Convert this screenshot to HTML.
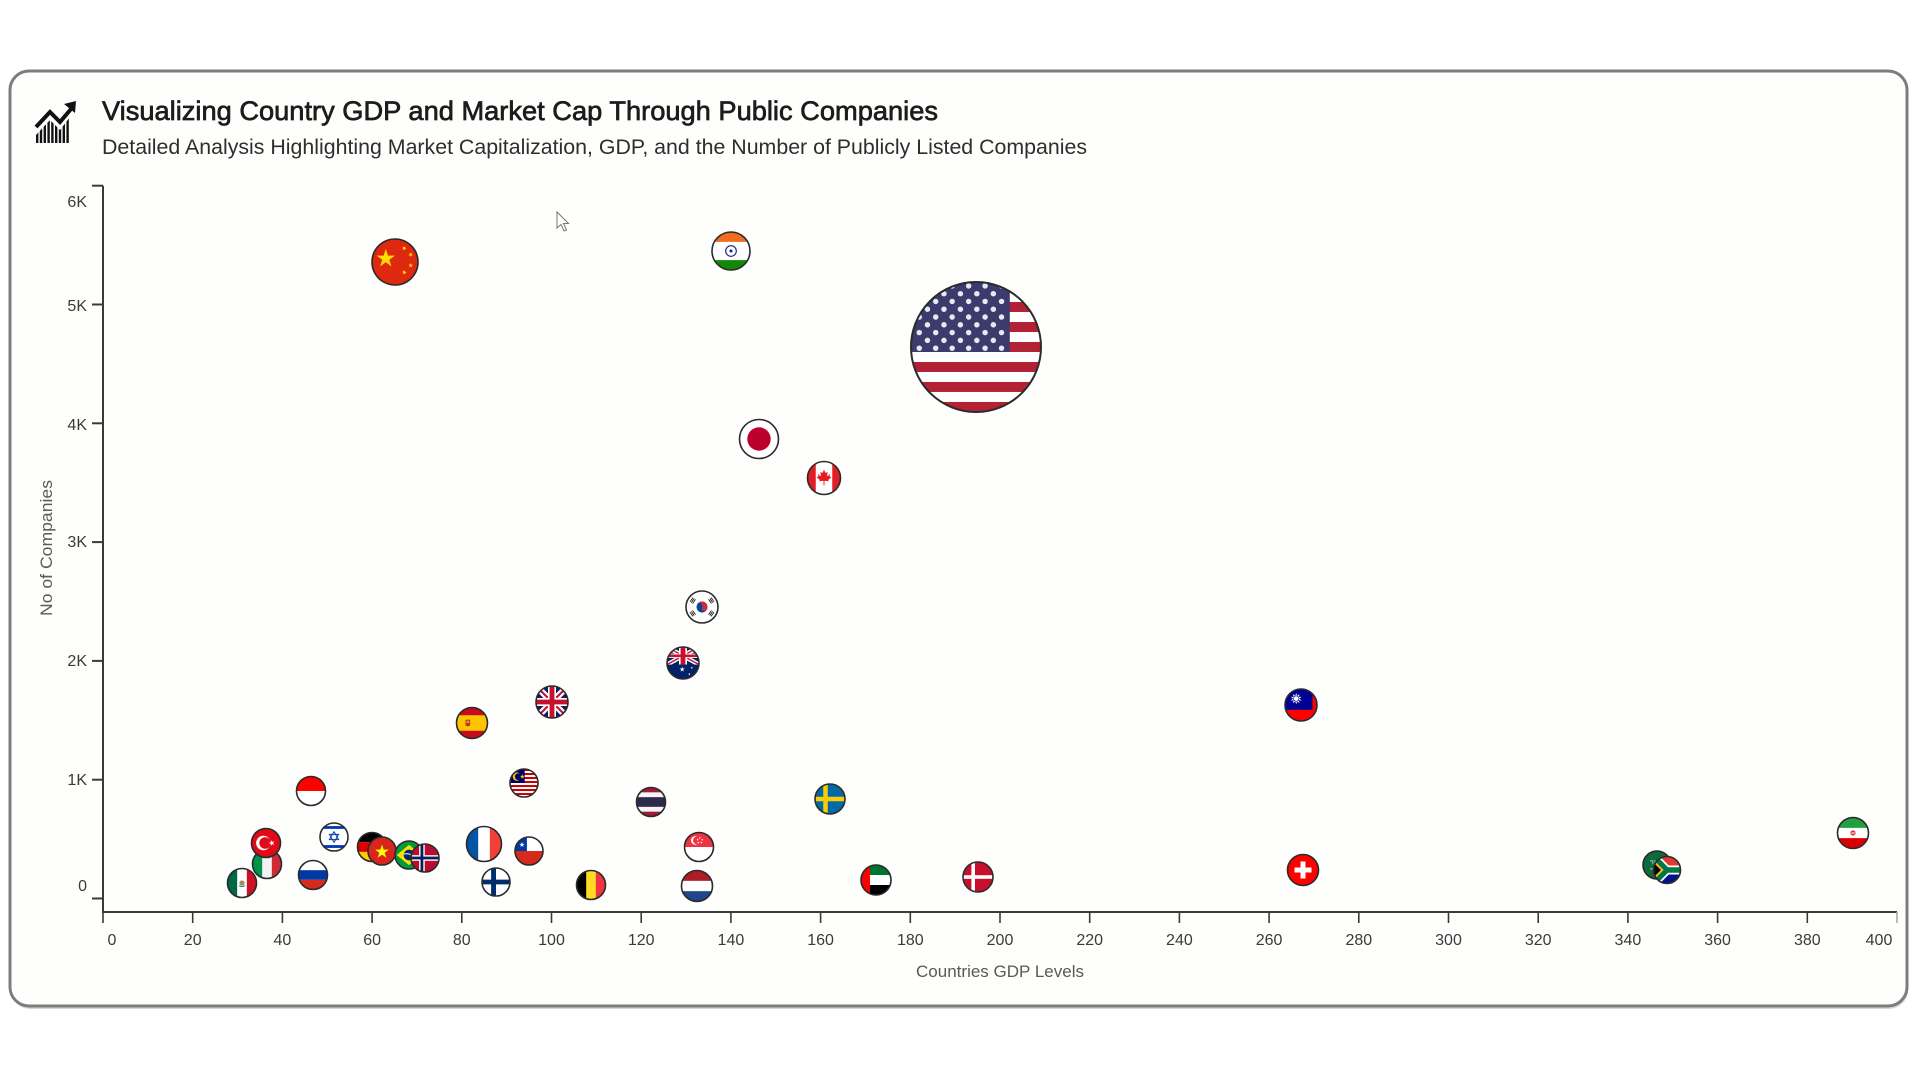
<!DOCTYPE html>
<html>
<head>
<meta charset="utf-8">
<style>
html,body{margin:0;padding:0;background:#ffffff;}
svg{display:block;}
text{font-family:"Liberation Sans",Arial,sans-serif;}
.o{fill:none;stroke:#2b2b2b;stroke-width:1.6;vector-effect:non-scaling-stroke;}
</style>
</head>
<body>
<svg width="1920" height="1080" viewBox="0 0 1920 1080" xmlns="http://www.w3.org/2000/svg">
<defs>
  <clipPath id="cc" clipPathUnits="userSpaceOnUse"><circle cx="0" cy="0" r="1"/></clipPath>
  <clipPath id="sq" clipPathUnits="userSpaceOnUse"><rect x="-1" y="-1" width="2" height="2"/></clipPath>
  <clipPath id="iconclip"><polygon points="36,135 50,120 60,130 70,117 70,143 36,143"/></clipPath>
  <polygon id="star" points="0,-1 0.2245,-0.309 0.951,-0.309 0.363,0.118 0.588,0.809 0,0.382 -0.588,0.809 -0.363,0.118 -0.951,-0.309 -0.2245,-0.309"/>

  <g id="uj"><g clip-path="url(#sq)">
    <rect x="-1" y="-1" width="2" height="2" fill="#012169"/>
    <path d="M-1,-1L1,1M1,-1L-1,1" stroke="#fff" stroke-width="0.4"/>
    <path d="M-1,-1L1,1M1,-1L-1,1" stroke="#c8102e" stroke-width="0.13"/>
    <path d="M0,-1V1M-1,0H1" stroke="#fff" stroke-width="0.5"/>
    <path d="M0,-1V1M-1,0H1" stroke="#c8102e" stroke-width="0.3"/>
  </g></g>

  <g id="f-cn">
    <rect x="-1" y="-1" width="2" height="2" fill="#de2910"/>
    <use href="#star" fill="#ffde00" transform="translate(-0.4,-0.15) scale(0.42)"/>
    <use href="#star" fill="#ffde00" transform="translate(0.4,-0.6) scale(0.11) rotate(20)"/>
    <use href="#star" fill="#ffde00" transform="translate(0.68,-0.32) scale(0.11) rotate(40)"/>
    <use href="#star" fill="#ffde00" transform="translate(0.68,0.15) scale(0.11)"/>
    <use href="#star" fill="#ffde00" transform="translate(0.4,0.45) scale(0.11) rotate(20)"/>
  </g>
  <g id="f-in">
    <rect x="-1" y="-1" width="2" height="2" fill="#fff"/>
    <rect x="-1" y="-1" width="2" height="0.52" fill="#f26b21"/>
    <rect x="-1" y="0.48" width="2" height="0.52" fill="#138808"/>
    <circle r="0.28" fill="none" stroke="#1a237e" stroke-width="0.06"/>
    <circle r="0.08" fill="#1a237e"/>
  </g>
  <g id="f-us">
    <rect x="-1" y="-1" width="2" height="2" fill="#fff"/>
    <g fill="#b22234">
      <rect x="-1" y="-1" width="2" height="0.1538"/>
      <rect x="-1" y="-0.6924" width="2" height="0.1538"/>
      <rect x="-1" y="-0.3848" width="2" height="0.1538"/>
      <rect x="-1" y="-0.0772" width="2" height="0.1538"/>
      <rect x="-1" y="0.2304" width="2" height="0.1538"/>
      <rect x="-1" y="0.538" width="2" height="0.1538"/>
      <rect x="-1" y="0.8456" width="2" height="0.1544"/>
    </g>
    <rect x="-1" y="-1" width="1.52" height="1.077" fill="#3c3b6e"/>
    <g fill="#e8e8f0">
      <circle cx="-0.873" cy="-0.94" r="0.042"/><circle cx="-0.62" cy="-0.94" r="0.042"/><circle cx="-0.367" cy="-0.94" r="0.042"/><circle cx="-0.113" cy="-0.94" r="0.042"/><circle cx="0.14" cy="-0.94" r="0.042"/><circle cx="0.393" cy="-0.94" r="0.042"/>
      <circle cx="-0.747" cy="-0.82" r="0.042"/><circle cx="-0.493" cy="-0.82" r="0.042"/><circle cx="-0.24" cy="-0.82" r="0.042"/><circle cx="0.013" cy="-0.82" r="0.042"/><circle cx="0.267" cy="-0.82" r="0.042"/>
      <circle cx="-0.873" cy="-0.701" r="0.042"/><circle cx="-0.62" cy="-0.701" r="0.042"/><circle cx="-0.367" cy="-0.701" r="0.042"/><circle cx="-0.113" cy="-0.701" r="0.042"/><circle cx="0.14" cy="-0.701" r="0.042"/><circle cx="0.393" cy="-0.701" r="0.042"/>
      <circle cx="-0.747" cy="-0.581" r="0.042"/><circle cx="-0.493" cy="-0.581" r="0.042"/><circle cx="-0.24" cy="-0.581" r="0.042"/><circle cx="0.013" cy="-0.581" r="0.042"/><circle cx="0.267" cy="-0.581" r="0.042"/>
      <circle cx="-0.873" cy="-0.461" r="0.042"/><circle cx="-0.62" cy="-0.461" r="0.042"/><circle cx="-0.367" cy="-0.461" r="0.042"/><circle cx="-0.113" cy="-0.461" r="0.042"/><circle cx="0.14" cy="-0.461" r="0.042"/><circle cx="0.393" cy="-0.461" r="0.042"/>
      <circle cx="-0.747" cy="-0.342" r="0.042"/><circle cx="-0.493" cy="-0.342" r="0.042"/><circle cx="-0.24" cy="-0.342" r="0.042"/><circle cx="0.013" cy="-0.342" r="0.042"/><circle cx="0.267" cy="-0.342" r="0.042"/>
      <circle cx="-0.873" cy="-0.222" r="0.042"/><circle cx="-0.62" cy="-0.222" r="0.042"/><circle cx="-0.367" cy="-0.222" r="0.042"/><circle cx="-0.113" cy="-0.222" r="0.042"/><circle cx="0.14" cy="-0.222" r="0.042"/><circle cx="0.393" cy="-0.222" r="0.042"/>
      <circle cx="-0.747" cy="-0.102" r="0.042"/><circle cx="-0.493" cy="-0.102" r="0.042"/><circle cx="-0.24" cy="-0.102" r="0.042"/><circle cx="0.013" cy="-0.102" r="0.042"/><circle cx="0.267" cy="-0.102" r="0.042"/>
      <circle cx="-0.873" cy="0.018" r="0.042"/><circle cx="-0.62" cy="0.018" r="0.042"/><circle cx="-0.367" cy="0.018" r="0.042"/><circle cx="-0.113" cy="0.018" r="0.042"/><circle cx="0.14" cy="0.018" r="0.042"/><circle cx="0.393" cy="0.018" r="0.042"/>
    </g>
  </g>
  <g id="f-jp">
    <rect x="-1" y="-1" width="2" height="2" fill="#fff"/>
    <circle r="0.6" fill="#bc002d"/>
  </g>
  <g id="f-ca">
    <rect x="-1" y="-1" width="2" height="2" fill="#fff"/>
    <rect x="-1" y="-1" width="0.5" height="2" fill="#e41c23"/>
    <rect x="0.5" y="-1" width="0.5" height="2" fill="#e41c23"/>
    <polygon fill="#e41c23" points="0,-0.5 0.1,-0.3 0.22,-0.36 0.18,-0.1 0.38,-0.25 0.33,-0.1 0.45,-0.05 0.25,0.12 0.3,0.2 0.03,0.17 0.03,0.45 -0.03,0.45 -0.03,0.17 -0.3,0.2 -0.25,0.12 -0.45,-0.05 -0.33,-0.1 -0.38,-0.25 -0.18,-0.1 -0.22,-0.36 -0.1,-0.3"/>
  </g>
  <g id="f-kr">
    <rect x="-1" y="-1" width="2" height="2" fill="#fff"/>
    <circle r="0.34" fill="#0047a0"/>
    <path d="M-0.34,0A0.34,0.34 0 0 1 0.34,0A0.17,0.17 0 0 1 0,0A0.17,0.17 0 0 0 -0.34,0Z" fill="#cd2e3a" transform="rotate(30)"/>
    <g fill="#000">
      <g transform="translate(-0.58,-0.4) rotate(-55)"><rect x="-0.16" y="-0.12" width="0.32" height="0.05"/><rect x="-0.16" y="-0.025" width="0.32" height="0.05"/><rect x="-0.16" y="0.07" width="0.32" height="0.05"/></g>
      <g transform="translate(0.58,-0.4) rotate(55)"><rect x="-0.16" y="-0.12" width="0.32" height="0.05"/><rect x="-0.16" y="-0.025" width="0.32" height="0.05"/><rect x="-0.16" y="0.07" width="0.32" height="0.05"/></g>
      <g transform="translate(-0.58,0.4) rotate(55)"><rect x="-0.16" y="-0.12" width="0.32" height="0.05"/><rect x="-0.16" y="-0.025" width="0.32" height="0.05"/><rect x="-0.16" y="0.07" width="0.32" height="0.05"/></g>
      <g transform="translate(0.58,0.4) rotate(-55)"><rect x="-0.16" y="-0.12" width="0.32" height="0.05"/><rect x="-0.16" y="-0.025" width="0.32" height="0.05"/><rect x="-0.16" y="0.07" width="0.32" height="0.05"/></g>
    </g>
  </g>
  <g id="f-au">
    <rect x="-1" y="-1" width="2" height="2" fill="#012169"/>
    <use href="#uj" transform="translate(0,-0.45) scale(1,0.55)"/>
    <use href="#star" fill="#fff" transform="translate(-0.05,0.4) scale(0.17)"/>
    <use href="#star" fill="#fff" transform="translate(0.55,0.3) scale(0.08)"/>
    <use href="#star" fill="#fff" transform="translate(0.4,0.7) scale(0.08)"/>
  </g>
  <g id="f-gb"><use href="#uj"/></g>
  <g id="f-es">
    <rect x="-1" y="-1" width="2" height="2" fill="#ffc400"/>
    <rect x="-1" y="-1" width="2" height="0.5" fill="#c60b1e"/>
    <rect x="-1" y="0.5" width="2" height="0.5" fill="#c60b1e"/>
    <rect x="-0.42" y="-0.22" width="0.3" height="0.42" rx="0.08" fill="#ad1519" opacity="0.8"/>
    <rect x="-0.36" y="-0.15" width="0.18" height="0.15" fill="#c8a14a"/>
  </g>
  <g id="f-tw">
    <rect x="-1" y="-1" width="2" height="2" fill="#fe0000"/>
    <rect x="-1" y="-1" width="1.72" height="1.3" fill="#000095"/>
    <use href="#star" fill="#fff" transform="translate(-0.3,-0.4) scale(0.36)"/>
    <use href="#star" fill="#fff" transform="translate(-0.3,-0.4) scale(0.36) rotate(36)"/>
    <circle cx="-0.3" cy="-0.4" r="0.19" fill="#000095"/>
    <circle cx="-0.3" cy="-0.4" r="0.15" fill="#fff"/>
  </g>
  <g id="f-id">
    <rect x="-1" y="-1" width="2" height="2" fill="#fff"/>
    <rect x="-1" y="-1" width="2" height="1" fill="#ff0000"/>
  </g>
  <g id="f-my">
    <rect x="-1" y="-1" width="2" height="2" fill="#fff"/>
    <g fill="#cc0001">
      <rect x="-1" y="-1" width="2" height="0.143"/><rect x="-1" y="-0.714" width="2" height="0.143"/><rect x="-1" y="-0.428" width="2" height="0.143"/><rect x="-1" y="-0.142" width="2" height="0.143"/><rect x="-1" y="0.144" width="2" height="0.143"/><rect x="-1" y="0.43" width="2" height="0.143"/><rect x="-1" y="0.716" width="2" height="0.143"/>
    </g>
    <rect x="-1" y="-1" width="1.05" height="1.0" fill="#010066"/>
    <circle cx="-0.5" cy="-0.45" r="0.3" fill="#ffcc00"/>
    <circle cx="-0.4" cy="-0.45" r="0.25" fill="#010066"/>
    <use href="#star" fill="#ffcc00" transform="translate(-0.12,-0.45) scale(0.18)"/>
  </g>
  <g id="f-th">
    <rect x="-1" y="-1" width="2" height="2" fill="#f4f5f8"/>
    <rect x="-1" y="-1" width="2" height="0.333" fill="#a51931"/>
    <rect x="-1" y="0.667" width="2" height="0.333" fill="#a51931"/>
    <rect x="-1" y="-0.333" width="2" height="0.666" fill="#2d2a4a"/>
  </g>
  <g id="f-se">
    <rect x="-1" y="-1" width="2" height="2" fill="#006aa7"/>
    <rect x="-0.45" y="-1" width="0.3" height="2" fill="#fecc02"/>
    <rect x="-1" y="-0.15" width="2" height="0.3" fill="#fecc02"/>
  </g>
  <g id="f-ir">
    <rect x="-1" y="-1" width="2" height="2" fill="#fff"/>
    <rect x="-1" y="-1" width="2" height="0.67" fill="#239f40"/>
    <rect x="-1" y="0.33" width="2" height="0.67" fill="#da0000"/>
    <circle r="0.13" fill="none" stroke="#da0000" stroke-width="0.06"/>
    <rect x="-0.025" y="-0.16" width="0.05" height="0.32" fill="#da0000"/>
  </g>
  <g id="f-tr">
    <rect x="-1" y="-1" width="2" height="2" fill="#e30a17"/>
    <circle cx="-0.18" cy="0" r="0.5" fill="#fff"/>
    <circle cx="-0.06" cy="0" r="0.4" fill="#e30a17"/>
    <use href="#star" fill="#fff" transform="translate(0.4,0) scale(0.22) rotate(-90)"/>
  </g>
  <g id="f-il">
    <rect x="-1" y="-1" width="2" height="2" fill="#fff"/>
    <rect x="-1" y="-0.78" width="2" height="0.2" fill="#0038b8"/>
    <rect x="-1" y="0.58" width="2" height="0.2" fill="#0038b8"/>
    <polygon points="0,-0.38 0.33,0.19 -0.33,0.19" fill="none" stroke="#0038b8" stroke-width="0.07"/>
    <polygon points="0,0.38 0.33,-0.19 -0.33,-0.19" fill="none" stroke="#0038b8" stroke-width="0.07"/>
  </g>
  <g id="f-de">
    <rect x="-1" y="-1" width="2" height="2" fill="#ffce00"/>
    <rect x="-1" y="-1" width="2" height="0.667" fill="#000"/>
    <rect x="-1" y="-0.333" width="2" height="0.666" fill="#dd0000"/>
  </g>
  <g id="f-vn">
    <rect x="-1" y="-1" width="2" height="2" fill="#da251d"/>
    <use href="#star" fill="#ffff00" transform="translate(0,0.06) scale(0.52)"/>
  </g>
  <g id="f-br">
    <rect x="-1" y="-1" width="2" height="2" fill="#009c3b"/>
    <polygon points="0,-0.72 0.88,0 0,0.72 -0.88,0" fill="#ffdf00"/>
    <circle r="0.38" fill="#002776"/>
    <path d="M-0.37,-0.07Q0,-0.15 0.37,0.08" stroke="#fff" stroke-width="0.07" fill="none"/>
  </g>
  <g id="f-no">
    <rect x="-1" y="-1" width="2" height="2" fill="#ba0c2f"/>
    <rect x="-0.42" y="-1" width="0.4" height="2" fill="#fff"/>
    <rect x="-1" y="-0.2" width="2" height="0.4" fill="#fff"/>
    <rect x="-0.32" y="-1" width="0.2" height="2" fill="#00205b"/>
    <rect x="-1" y="-0.1" width="2" height="0.2" fill="#00205b"/>
  </g>
  <g id="f-fr">
    <rect x="-1" y="-1" width="2" height="2" fill="#fff"/>
    <rect x="-1" y="-1" width="0.667" height="2" fill="#0055a4"/>
    <rect x="0.333" y="-1" width="0.667" height="2" fill="#ef4135"/>
  </g>
  <g id="f-cl">
    <rect x="-1" y="-1" width="2" height="2" fill="#fff"/>
    <rect x="-1" y="0" width="2" height="1" fill="#d52b1e"/>
    <rect x="-1" y="-1" width="0.85" height="1" fill="#0039a6"/>
    <use href="#star" fill="#fff" transform="translate(-0.5,-0.45) scale(0.2)"/>
  </g>
  <g id="f-sg">
    <rect x="-1" y="-1" width="2" height="2" fill="#fff"/>
    <rect x="-1" y="-1" width="2" height="1" fill="#ef3340"/>
    <circle cx="-0.25" cy="-0.45" r="0.3" fill="#fff"/>
    <circle cx="-0.14" cy="-0.45" r="0.27" fill="#ef3340"/>
    <circle cx="0.05" cy="-0.62" r="0.05" fill="#fff"/>
    <circle cx="0.22" cy="-0.5" r="0.05" fill="#fff"/>
    <circle cx="0.16" cy="-0.3" r="0.05" fill="#fff"/>
    <circle cx="-0.05" cy="-0.3" r="0.05" fill="#fff"/>
    <circle cx="-0.1" cy="-0.5" r="0.05" fill="#fff"/>
  </g>
  <g id="f-it">
    <rect x="-1" y="-1" width="2" height="2" fill="#f1f2f1"/>
    <rect x="-1" y="-1" width="0.667" height="2" fill="#009246"/>
    <rect x="0.333" y="-1" width="0.667" height="2" fill="#ce2b37"/>
  </g>
  <g id="f-ru">
    <rect x="-1" y="-1" width="2" height="2" fill="#fff"/>
    <rect x="-1" y="-0.333" width="2" height="0.666" fill="#0039a6"/>
    <rect x="-1" y="0.333" width="2" height="0.667" fill="#d52b1e"/>
  </g>
  <g id="f-mx">
    <rect x="-1" y="-1" width="2" height="2" fill="#fff"/>
    <rect x="-1" y="-1" width="0.667" height="2" fill="#006847"/>
    <rect x="0.333" y="-1" width="0.667" height="2" fill="#ce1126"/>
    <circle r="0.18" fill="#8c6d3f" opacity="0.8"/>
    <path d="M-0.2,0.18Q0,0.3 0.2,0.18" stroke="#006847" stroke-width="0.06" fill="none"/>
  </g>
  <g id="f-fi">
    <rect x="-1" y="-1" width="2" height="2" fill="#fff"/>
    <rect x="-0.35" y="-1" width="0.35" height="2" fill="#002f6c"/>
    <rect x="-1" y="-0.17" width="2" height="0.34" fill="#002f6c"/>
  </g>
  <g id="f-be">
    <rect x="-1" y="-1" width="2" height="2" fill="#fdda24"/>
    <rect x="-1" y="-1" width="0.667" height="2" fill="#000"/>
    <rect x="0.333" y="-1" width="0.667" height="2" fill="#ef3340"/>
  </g>
  <g id="f-nl">
    <rect x="-1" y="-1" width="2" height="2" fill="#fff"/>
    <rect x="-1" y="-1" width="2" height="0.667" fill="#ae1c28"/>
    <rect x="-1" y="0.333" width="2" height="0.667" fill="#21468b"/>
  </g>
  <g id="f-ae">
    <rect x="-1" y="-1" width="2" height="2" fill="#fff"/>
    <rect x="-1" y="-1" width="2" height="0.667" fill="#00732f"/>
    <rect x="-1" y="0.333" width="2" height="0.667" fill="#000"/>
    <rect x="-1" y="-1" width="0.6" height="2" fill="#ff0000"/>
  </g>
  <g id="f-dk">
    <rect x="-1" y="-1" width="2" height="2" fill="#c8102e"/>
    <rect x="-0.44" y="-1" width="0.24" height="2" fill="#fff"/>
    <rect x="-1" y="-0.12" width="2" height="0.24" fill="#fff"/>
  </g>
  <g id="f-ch">
    <rect x="-1" y="-1" width="2" height="2" fill="#ff0000"/>
    <rect x="-0.16" y="-0.55" width="0.32" height="1.1" fill="#fff"/>
    <rect x="-0.55" y="-0.16" width="1.1" height="0.32" fill="#fff"/>
  </g>
  <g id="f-sa">
    <rect x="-1" y="-1" width="2" height="2" fill="#0b6b3a"/>
    <rect x="-0.5" y="0.25" width="1" height="0.06" fill="#fff" opacity="0.8"/>
    <path d="M-0.5,-0.3h0.2v0.25M-0.15,-0.35v0.3h0.2M0.2,-0.3v0.25h0.25" stroke="#fff" stroke-width="0.06" fill="none" opacity="0.7"/>
  </g>
  <g id="f-za">
    <rect x="-1" y="-1" width="2" height="1" fill="#e03c31"/>
    <rect x="-1" y="0" width="2" height="1" fill="#001489"/>
    <path d="M-1,-1L0,0L1,0M-1,1L0,0" stroke="#fff" stroke-width="0.66" fill="none"/>
    <path d="M-1,-1L0,0L1,0M-1,1L0,0" stroke="#007749" stroke-width="0.4" fill="none"/>
    <polygon points="-1,-0.75 -0.25,0 -1,0.75" fill="#ffb81c"/>
    <polygon points="-1,-0.55 -0.45,0 -1,0.55" fill="#000"/>
  </g>
</defs>

<!-- Card -->
<rect x="11" y="73" width="1897" height="936" rx="19" fill="#d6d6d6"/>
<rect x="10" y="71" width="1897" height="935" rx="19" fill="#fefefc" stroke="#7d7d7d" stroke-width="3"/>

<!-- Icon -->
<g clip-path="url(#iconclip)" fill="#111">
  <rect x="36" y="110" width="2.4" height="34"/><rect x="39.8" y="110" width="2.4" height="34"/><rect x="43.6" y="110" width="2.4" height="34"/><rect x="47.4" y="110" width="2.4" height="34"/><rect x="51.2" y="110" width="2.4" height="34"/><rect x="55" y="110" width="2.4" height="34"/><rect x="58.8" y="110" width="2.4" height="34"/><rect x="62.6" y="110" width="2.4" height="34"/><rect x="66.4" y="110" width="2.4" height="34"/>
</g>
<polyline points="36,127 50,112 60,122 71,109" fill="none" stroke="#111" stroke-width="4" stroke-linejoin="miter"/>
<polygon points="76,101 75,113 64,104" fill="#111"/>

<!-- Titles -->
<text x="102" y="120" font-size="27" fill="#1c1c1c" stroke="#1c1c1c" stroke-width="0.7" textLength="836" lengthAdjust="spacingAndGlyphs">Visualizing Country GDP and Market Cap Through Public Companies</text>
<text x="102" y="154" font-size="21" fill="#2e2e2e" textLength="985" lengthAdjust="spacingAndGlyphs">Detailed Analysis Highlighting Market Capitalization, GDP, and the Number of Publicly Listed Companies</text>

<!-- Axes -->
<g stroke="#3a3a3a" stroke-width="2" fill="none">
  <line x1="103" y1="185.7" x2="103" y2="912"/>
  <line x1="102" y1="912" x2="1897" y2="912"/>
  <line x1="92" y1="185.7" x2="103" y2="185.7"/>
  <line x1="92" y1="304.5" x2="103" y2="304.5"/>
  <line x1="92" y1="423.3" x2="103" y2="423.3"/>
  <line x1="92" y1="542.1" x2="103" y2="542.1"/>
  <line x1="92" y1="660.9" x2="103" y2="660.9"/>
  <line x1="92" y1="779.7" x2="103" y2="779.7"/>
  <line x1="92" y1="898.5" x2="103" y2="898.5"/>
</g>
<g stroke="#3a3a3a" stroke-width="1.6">
  <line x1="103" y1="912" x2="103" y2="923"/>
  <line x1="192.7" y1="912" x2="192.7" y2="923"/>
  <line x1="282.4" y1="912" x2="282.4" y2="923"/>
  <line x1="372.1" y1="912" x2="372.1" y2="923"/>
  <line x1="461.8" y1="912" x2="461.8" y2="923"/>
  <line x1="551.5" y1="912" x2="551.5" y2="923"/>
  <line x1="641.2" y1="912" x2="641.2" y2="923"/>
  <line x1="730.9" y1="912" x2="730.9" y2="923"/>
  <line x1="820.6" y1="912" x2="820.6" y2="923"/>
  <line x1="910.3" y1="912" x2="910.3" y2="923"/>
  <line x1="1000" y1="912" x2="1000" y2="923"/>
  <line x1="1089.7" y1="912" x2="1089.7" y2="923"/>
  <line x1="1179.4" y1="912" x2="1179.4" y2="923"/>
  <line x1="1269.1" y1="912" x2="1269.1" y2="923"/>
  <line x1="1358.8" y1="912" x2="1358.8" y2="923"/>
  <line x1="1448.5" y1="912" x2="1448.5" y2="923"/>
  <line x1="1538.2" y1="912" x2="1538.2" y2="923"/>
  <line x1="1627.9" y1="912" x2="1627.9" y2="923"/>
  <line x1="1717.6" y1="912" x2="1717.6" y2="923"/>
  <line x1="1807.3" y1="912" x2="1807.3" y2="923"/>
  <line x1="1897" y1="912" x2="1897" y2="923" stroke="#aaa"/>
</g>

<!-- Y labels -->
<g font-size="16" fill="#3a3a3a" text-anchor="end">
  <text x="87" y="207">6K</text>
  <text x="87" y="311">5K</text>
  <text x="87" y="430">4K</text>
  <text x="87" y="547">3K</text>
  <text x="87" y="666">2K</text>
  <text x="87" y="785">1K</text>
  <text x="87" y="891">0</text>
</g>
<!-- X labels -->
<g font-size="16" fill="#3a3a3a" text-anchor="middle">
  <text x="112" y="945">0</text>
  <text x="192.7" y="945">20</text>
  <text x="282.4" y="945">40</text>
  <text x="372.1" y="945">60</text>
  <text x="461.8" y="945">80</text>
  <text x="551.5" y="945">100</text>
  <text x="641.2" y="945">120</text>
  <text x="730.9" y="945">140</text>
  <text x="820.6" y="945">160</text>
  <text x="910.3" y="945">180</text>
  <text x="1000" y="945">200</text>
  <text x="1089.7" y="945">220</text>
  <text x="1179.4" y="945">240</text>
  <text x="1269.1" y="945">260</text>
  <text x="1358.8" y="945">280</text>
  <text x="1448.5" y="945">300</text>
  <text x="1538.2" y="945">320</text>
  <text x="1627.9" y="945">340</text>
  <text x="1717.6" y="945">360</text>
  <text x="1807.3" y="945">380</text>
  <text x="1879" y="945">400</text>
</g>

<!-- Axis titles -->
<text x="1000" y="977" font-size="17" fill="#595959" text-anchor="middle" textLength="168" lengthAdjust="spacingAndGlyphs">Countries GDP Levels</text>
<text transform="translate(52,548) rotate(-90)" font-size="17" fill="#595959" text-anchor="middle" textLength="136" lengthAdjust="spacingAndGlyphs">No of Companies</text>

<!-- Bubbles -->
<g transform="translate(395,262) scale(23)"><use href="#f-cn" clip-path="url(#cc)"/><circle r="1" class="o"/></g>
<g transform="translate(731,251) scale(19)"><use href="#f-in" clip-path="url(#cc)"/><circle r="1" class="o"/></g>
<g transform="translate(976,347) scale(65)"><use href="#f-us" clip-path="url(#cc)"/><circle r="1" class="o" style="stroke-width:2"/></g>
<g transform="translate(759,439) scale(19.5)"><use href="#f-jp" clip-path="url(#cc)"/><circle r="1" class="o"/></g>
<g transform="translate(824,478) scale(16.5)"><use href="#f-ca" clip-path="url(#cc)"/><circle r="1" class="o"/></g>
<g transform="translate(702,607) scale(16)"><use href="#f-kr" clip-path="url(#cc)"/><circle r="1" class="o"/></g>
<g transform="translate(683,663) scale(16)"><use href="#f-au" clip-path="url(#cc)"/><circle r="1" class="o"/></g>
<g transform="translate(552,702) scale(16)"><use href="#f-gb" clip-path="url(#cc)"/><circle r="1" class="o"/></g>
<g transform="translate(472,723) scale(15.5)"><use href="#f-es" clip-path="url(#cc)"/><circle r="1" class="o"/></g>
<g transform="translate(1301,705) scale(16)"><use href="#f-tw" clip-path="url(#cc)"/><circle r="1" class="o"/></g>
<g transform="translate(311,791) scale(14.5)"><use href="#f-id" clip-path="url(#cc)"/><circle r="1" class="o"/></g>
<g transform="translate(524,783) scale(14)"><use href="#f-my" clip-path="url(#cc)"/><circle r="1" class="o"/></g>
<g transform="translate(651,802) scale(14.5)"><use href="#f-th" clip-path="url(#cc)"/><circle r="1" class="o"/></g>
<g transform="translate(830,799) scale(15)"><use href="#f-se" clip-path="url(#cc)"/><circle r="1" class="o"/></g>
<g transform="translate(1853,833) scale(15.5)"><use href="#f-ir" clip-path="url(#cc)"/><circle r="1" class="o"/></g>
<g transform="translate(267,864) scale(14.5)"><use href="#f-it" clip-path="url(#cc)"/><circle r="1" class="o"/></g>
<g transform="translate(266,843) scale(14.5)"><use href="#f-tr" clip-path="url(#cc)"/><circle r="1" class="o"/></g>
<g transform="translate(334,837) scale(14)"><use href="#f-il" clip-path="url(#cc)"/><circle r="1" class="o"/></g>
<g transform="translate(372,847) scale(14.5)"><use href="#f-de" clip-path="url(#cc)"/><circle r="1" class="o"/></g>
<g transform="translate(382,851) scale(14)"><use href="#f-vn" clip-path="url(#cc)"/><circle r="1" class="o"/></g>
<g transform="translate(409,855) scale(14)"><use href="#f-br" clip-path="url(#cc)"/><circle r="1" class="o"/></g>
<g transform="translate(425,858) scale(14)"><use href="#f-no" clip-path="url(#cc)"/><circle r="1" class="o"/></g>
<g transform="translate(484,844) scale(17.5)"><use href="#f-fr" clip-path="url(#cc)"/><circle r="1" class="o"/></g>
<g transform="translate(529,851) scale(14)"><use href="#f-cl" clip-path="url(#cc)"/><circle r="1" class="o"/></g>
<g transform="translate(699,847) scale(14.5)"><use href="#f-sg" clip-path="url(#cc)"/><circle r="1" class="o"/></g>
<g transform="translate(313,875) scale(14.5)"><use href="#f-ru" clip-path="url(#cc)"/><circle r="1" class="o"/></g>
<g transform="translate(242,883) scale(14.5)"><use href="#f-mx" clip-path="url(#cc)"/><circle r="1" class="o"/></g>
<g transform="translate(496,882) scale(14)"><use href="#f-fi" clip-path="url(#cc)"/><circle r="1" class="o"/></g>
<g transform="translate(591,885) scale(14.5)"><use href="#f-be" clip-path="url(#cc)"/><circle r="1" class="o"/></g>
<g transform="translate(697,886) scale(15.5)"><use href="#f-nl" clip-path="url(#cc)"/><circle r="1" class="o"/></g>
<g transform="translate(876,880) scale(15)"><use href="#f-ae" clip-path="url(#cc)"/><circle r="1" class="o"/></g>
<g transform="translate(978,877) scale(15)"><use href="#f-dk" clip-path="url(#cc)"/><circle r="1" class="o"/></g>
<g transform="translate(1303,870) scale(15.5)"><use href="#f-ch" clip-path="url(#cc)"/><circle r="1" class="o"/></g>
<g transform="translate(1657,865) scale(14)"><use href="#f-sa" clip-path="url(#cc)"/><circle r="1" class="o"/></g>
<g transform="translate(1667,870) scale(13.5)"><use href="#f-za" clip-path="url(#cc)"/><circle r="1" class="o"/></g>

<!-- Mouse cursor -->
<polygon points="557,212 557,228 561,224.5 564,231 566.5,230 563.5,223.5 568.5,223.5" fill="#fff" stroke="#777" stroke-width="1"/>
</svg>
</body>
</html>
